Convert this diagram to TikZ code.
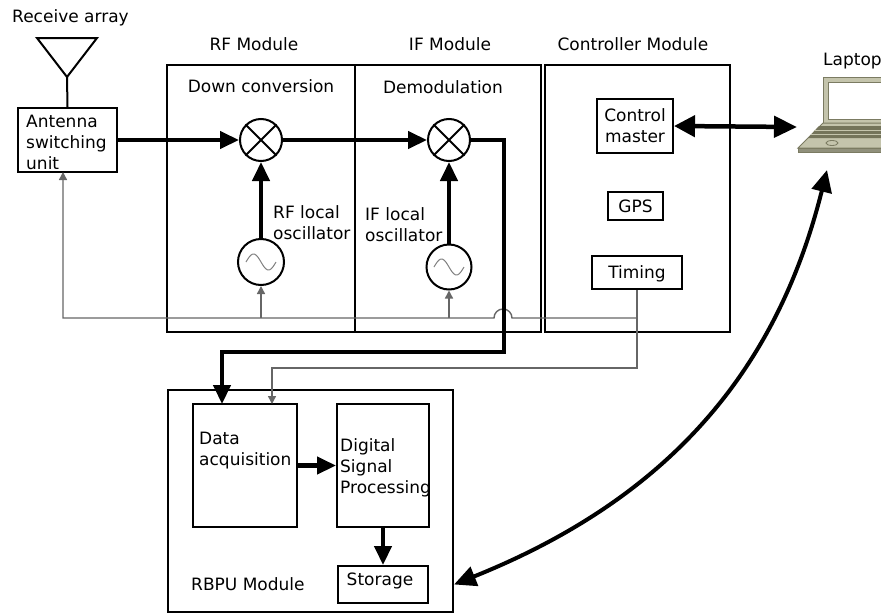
\documentclass[tikz,border=0pt]{standalone}
\usepackage{fontspec}
\setmainfont{DejaVu Sans}
\usetikzlibrary{arrows.meta}
\definecolor{wire}{HTML}{666666}
\definecolor{lapedge}{HTML}{7B7B62}
\definecolor{lapfill}{HTML}{C4C4AC}
\definecolor{lapdark}{HTML}{74745A}
\begin{document}
\begin{tikzpicture}[x=1pt,y=-1pt,
  font=\fontsize{17pt}{21pt}\selectfont,
  blk/.style={draw, rectangle, line width=2pt, inner sep=0pt},
  mix/.style={draw, circle, line width=2pt, inner sep=0pt, minimum size=42pt},
  osc/.style={draw, circle, line width=2pt, inner sep=0pt, minimum size=46pt},
  sig/.style={line width=4.5pt},
  bigtip/.style={-{Triangle[length=19pt,width=17pt]}},
  dbltip/.style={{Triangle[length=21pt,width=21pt]}-{Triangle[length=23pt,width=21pt]}},
  ctl/.style={draw=wire, line width=1.4pt},
  smalltip/.style={-{Triangle[length=8pt,width=8pt]}},
  lbl/.style={inner sep=0pt},
  ml/.style={inner sep=0pt, align=left, anchor=north west}
]
\useasboundingbox (0,0) rectangle (881,613);

% ---------- antenna and switching unit ----------
\node[lbl, anchor=base west] (rxarr) at (12,22) {Receive array};
\coordinate (antTip) at (67,77);
\draw[line width=2pt, line join=miter] (37,38) -- (97,38) -- (antTip) -- cycle;
\node[blk, minimum width=99pt, minimum height=64pt] (ant) at (67.5,140) {};
\node[ml] (anttxt) at (26,114.5) {Antenna\\switching\\unit};
\draw[line width=2pt] (antTip) -- (ant.north);

% ---------- module frames ----------
\node[blk, minimum width=188pt, minimum height=267pt] (rf) at (261,198.5) {};
\node[blk, minimum width=186pt, minimum height=267pt] (ifm) at (448,198.5) {};
\node[blk, minimum width=185pt, minimum height=267pt] (ctrl) at (637.5,198.5) {};
\node[lbl, anchor=base] (rftitle) at (254,50) {RF Module};
\node[lbl, anchor=base] (iftitle) at (450,50) {IF Module};
\node[lbl, anchor=base] (cttitle) at (633,50) {Controller Module};
\node[lbl, anchor=base] (downc) at (261,92) {Down conversion};
\node[lbl, anchor=base] (demod) at (443,93) {Demodulation};

% ---------- mixers ----------
\node[mix] (m1) at (261,140) {};
\node[mix] (m2) at (449,140) {};
\foreach \m in {m1,m2}{
  \draw[line width=1.8pt] (\m.north east) -- (\m.south west)
                          (\m.north west) -- (\m.south east);
}

% ---------- local oscillators ----------
\node[osc] (o1) at (261,262) {};
\node[osc, minimum size=45pt] (o2) at (449,267) {};
\foreach \o in {o1,o2}{
  \draw[gray, line width=1pt, shift={(\o.center)}]
    plot[domain=-1:1, samples=40, smooth] (\x*15, {-8*sin(180*(\x+1))});
}
\node[ml] (rflo) at (273,205) {RF local\\oscillator};
\node[ml] (iflo) at (365,207) {IF local\\oscillator};

% ---------- controller module ----------
\node[blk, minimum width=76pt, minimum height=54pt, align=center] (cm) at (635,126) {Control\\master};
\node[blk, minimum width=55pt, minimum height=28pt] (gps) at (635.5,206) {GPS};
\node[blk, minimum width=90pt, minimum height=33pt, text depth=0pt] (tim) at (637,272.5) {Timing};

% ---------- RBPU module ----------
\node[blk, minimum width=285pt, minimum height=222pt] (rbpu) at (310.5,501) {};
\node[blk, minimum width=104pt, minimum height=123pt] (da) at (245,465.5) {};
\node[blk, minimum width=92pt, minimum height=123pt] (dsp) at (383,465.5) {};
\node[blk, minimum width=90pt, minimum height=37pt] (stor) at (383,584.5) {};
\node[ml] (datxt) at (199,431.5) {Data\\acquisition};
\node[ml] (dsptxt) at (340,438) {Digital\\Signal\\Processing};
\node[lbl, anchor=base] (stortxt) at (380,585) {Storage};
\node[lbl, anchor=base west] (rbputxt) at (191,590) {RBPU Module};

% ---------- control / timing wiring ----------
\coordinate (bus) at (0,318);
\coordinate (tbus) at (0,368);
\coordinate (antIn) at (63,172);
\coordinate (daTi) at (272,404);
\draw[ctl, smalltip] (tim.south) -- (tim.south |- tbus) -| (daTi);
\draw[ctl, smalltip] (tim.south |- bus) -- (512,318)
  arc[start angle=0, end angle=180, radius=9pt] -| (antIn);
\draw[ctl, smalltip] (o1.south |- bus) -- (o1.south);
\draw[ctl, smalltip] (o2.south |- bus) -- (o2.south);

% ---------- signal path ----------
\coordinate (tapR) at (504,352);
\coordinate (daIn) at (222,404);
\draw[sig, bigtip] (ant.east) -- (m1.west);
\draw[sig, bigtip] (m1.east) -- (m2.west);
\draw[sig, bigtip] (o1.north) -- (m1.south);
\draw[sig, bigtip] (o2.north) -- (m2.south);
\draw[sig, bigtip] (m2.east) -| (tapR) -| (daIn);
\draw[sig, bigtip] (da.east) -- (dsp.west);
\draw[sig, bigtip] (dsp.south) -- (stor.north);

% ---------- laptop ----------
\begin{scope}
  \clip (0,0) rectangle (881,613);
  \node[lbl, anchor=base west] (laptxt) at (823,65) {Laptop};
  \draw[lapedge, fill=lapfill, line width=1pt] (823,77) rectangle (900,123);
  \draw[lapedge, fill=white, line width=1pt] (828,82) rectangle (900,119);
  \draw[lapedge, fill=lapfill, line width=1pt] (823,123) -- (900,123) -- (900,148) -- (798,148) -- cycle;
  \draw[lapedge, fill=lapdark!80, line width=0.8pt] (798,148) rectangle (900,152);
  \fill[lapdark] (819,126) -- (900,126) -- (900,138) -- (808,138) -- cycle;
  \draw[lapfill, line width=1pt] (814,130) -- (900,130) (811,134) -- (900,134);
  \draw[lapedge, line width=0.8pt] (832,143) ellipse[x radius=6pt, y radius=2.5pt];
  \coordinate (lapKey) at (797,127);
  \coordinate (lapBot) at (827,170);
\end{scope}

\draw[sig, dbltip] (cm.east) -- (lapKey);
\draw[line width=4pt, {Triangle[length=22pt,width=20pt]}-{Triangle[length=22pt,width=20pt]}]
  (lapBot) .. controls (777,370) and (669.5,498) .. (rbpu.east |- stor.center);
\end{tikzpicture}
\end{document}
